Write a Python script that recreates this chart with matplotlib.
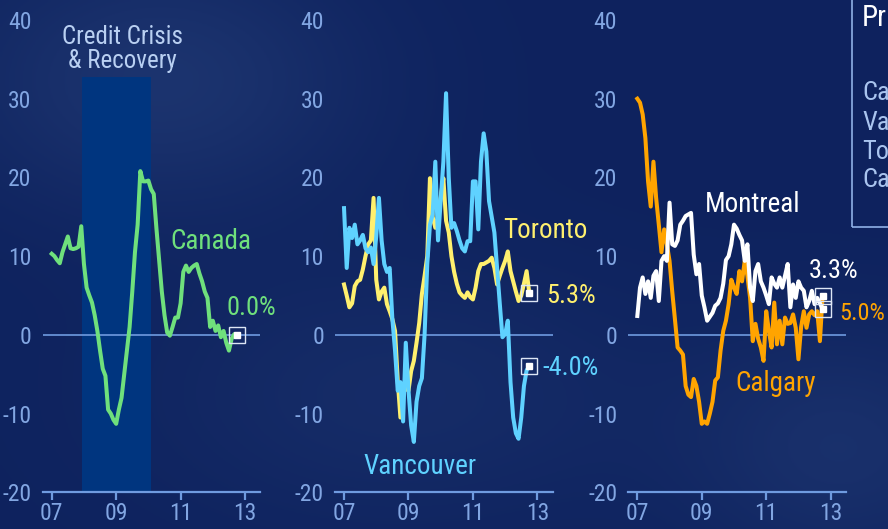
import numpy as np
import matplotlib
matplotlib.use("Agg")
import matplotlib.pyplot as plt
from matplotlib.patches import Rectangle

plt.rcParams['font.family'] = ['Roboto Condensed', 'Liberation Sans Narrow', 'Lato', 'DejaVu Sans']
plt.rcParams['axes.unicode_minus'] = False

# monthly y/y % change, Jan 2007 .. Oct 2012
start_year = 2007
canada = [10.3, 10.0, 9.5, 9.1, 10.5, 11.5, 12.5, 11.0, 10.9, 11.0, 11.2, 13.8,
          9.0, 6.0, 5.0, 4.1, 2.5, 0.5, -2.0, -4.3, -5.2, -9.5, -10.0, -10.8,
          -11.3, -9.5, -8.0, -5.0, -2.0, 1.0, 5.5, 10.5, 14.0, 20.8, 19.5, 19.5,
          19.6, 18.5, 17.9, 13.5, 9.5, 5.5, 2.5, 0.3, -0.1, 1.0, 2.2, 2.2,
          4.0, 8.0, 8.8, 8.0, 8.5, 8.8, 9.0, 7.8, 6.8, 5.5, 4.7, 1.0,
          1.8, 0.5, 1.2, -0.3, 0.5, -1.0, -2.0, -0.5, 0.1, 0.0]
vancouver = [16.1, 8.5, 13.6, 12.3, 14.0, 11.5, 12.0, 12.7, 11.0, 10.5, 11.1, 9.0,
             12.5, 17.4, 12.0, 9.0, 8.0, 8.5, 2.0, -2.0, -7.1, -6.0, -11.0, -1.0,
             -7.0, -11.5, -13.6, -8.5, -6.5, -5.5, 0.0, 9.0, 14.0, 15.3, 22.0, 12.0,
             17.0, 22.0, 30.7, 20.0, 13.6, 14.2, 13.2, 12.0, 11.0, 10.6, 11.9, 11.9,
             19.5, 19.5, 13.4, 22.0, 25.6, 23.3, 17.0, 15.0, 13.0, 8.5, 4.0, -0.3,
             0.1, 1.8, -6.0, -10.5, -12.5, -13.2, -10.5, -6.5, -4.5, -4.0]
toronto = [6.4, 5.0, 3.5, 4.0, 6.2, 6.8, 7.0, 8.3, 10.0, 11.5, 12.0, 17.4,
           7.0, 4.5, 5.5, 6.0, 3.9, 3.0, 2.0, 0.5, -5.8, -10.5, -7.0, -6.8,
           -7.1, -4.6, -3.3, -1.0, 1.5, 5.2, 7.5, 10.0, 19.9, 15.0, 13.6, 15.0,
           17.5, 19.9, 14.5, 13.0, 10.0, 8.0, 6.5, 5.4, 5.0, 4.7, 5.4, 4.8,
           4.5, 6.0, 8.1, 9.0, 9.0, 9.2, 9.4, 9.8, 8.5, 6.4, 7.5, 8.5,
           9.4, 10.6, 8.1, 6.8, 5.5, 4.3, 5.0, 6.5, 8.1, 5.3]
montreal = [2.4, 6.0, 7.3, 5.2, 6.8, 4.7, 7.5, 8.1, 4.3, 9.4, 10.0, 9.4,
            16.8, 11.5, 11.3, 12.0, 14.0, 14.5, 15.1, 15.3, 15.5, 10.2, 7.7, 9.0,
            5.0, 3.5, 1.8, 2.3, 2.8, 3.7, 4.0, 4.7, 6.5, 9.5, 10.0, 11.5,
            14.0, 13.5, 12.7, 12.0, 9.4, 11.5, 6.0, 4.3, 8.1, 9.0, 6.8, 6.0,
            5.0, 3.9, 7.3, 6.5, 6.0, 7.3, 6.0, 7.5, 9.0, 3.5, 6.4, 4.7,
            6.8, 6.0, 5.6, 3.5, 4.3, 5.6, 3.9, 4.7, 4.0, 3.3]
calgary = [30.0, 29.5, 28.0, 25.0, 19.5, 16.3, 22.0, 17.4, 14.0, 10.5, 13.4, 11.5,
           9.4, 5.5, 2.0, -1.6, -2.0, -2.5, -6.5, -7.6, -7.9, -5.6, -6.5, -8.5,
           -11.3, -11.0, -11.3, -10.0, -8.5, -5.8, -5.4, -2.0, 0.5, 1.8, 3.9, 7.0,
           6.0, 5.2, 8.1, 6.8, 9.4, 7.5, 4.7, -0.8, 1.4, -0.5, -1.6, -3.3,
           3.0, 0.5, -1.6, 4.1, -1.2, 1.8, -1.2, 2.2, 1.4, 1.5, 2.6, 0.9,
           -3.1, 1.0, 3.0, 0.9, 2.6, 3.0, 2.5, 3.0, -0.8, 5.0]

crisis_span = (2007.95, 2010.08)
crisis_top = 32.7
year_ticks = [2007, 2009, 2011, 2013]
year_labels = ['07', '09', '11', '13']
y_ticks = [-20, -10, 0, 10, 20, 30, 40]

GREEN = '#6fe07c'
YELLOW = '#fff06e'
LBLUE = '#5fd2ff'
ORANGE = '#ffa400'
WHITE = '#ffffff'
AXIS = '#6f9be0'
TICK = '#82a6e2'

TICK_FS = 17
NAME_FS = 19.5
PCT_FS = 19

months = start_year + np.arange(len(canada)) / 12.0

fig = plt.figure(figsize=(8.88, 5.29), dpi=100)
fig.patch.set_facecolor('#102766')

# background gradient
bg = fig.add_axes([0, 0, 1, 1], zorder=-10)
gx, gy = np.meshgrid(np.linspace(0, 1, 300), np.linspace(0, 1, 200))
glow = (0.9 * np.exp(-((gx - 0.18) ** 2 / 0.05 + (gy - 0.15) ** 2 / 0.06))
        + 0.7 * np.exp(-((gx - 0.95) ** 2 / 0.03 + (gy - 0.85) ** 2 / 0.05))
        + 0.5 * np.exp(-((gx - 0.45) ** 2 / 0.08 + (gy - 0.75) ** 2 / 0.06)))
dark = np.array([0.055, 0.135, 0.37])
light = np.array([0.115, 0.21, 0.44])
img = dark + glow[..., None].clip(0, 1) * (light - dark)
bg.imshow(img, aspect='auto', extent=[0, 1, 0, 1], origin='upper')
bg.axis('off')


def setup(ax):
    ax.set_facecolor('none')
    ax.set_xlim(2006.72, 2013.47)
    ax.set_ylim(-20, 40)
    for s in ['top', 'right', 'left']:
        ax.spines[s].set_visible(False)
    ax.spines['bottom'].set_color(AXIS)
    ax.spines['bottom'].set_linewidth(1.6)
    ax.set_xticks(year_ticks)
    ax.set_xticklabels(year_labels)
    ax.set_yticks(y_ticks)
    ax.tick_params(axis='x', colors=AXIS, length=6, width=1.6, labelsize=TICK_FS,
                   labelcolor=TICK, pad=1)
    ax.tick_params(axis='y', length=0, labelsize=TICK_FS, labelcolor=TICK, pad=8)
    ax.axhline(0, color=AXIS, lw=1.2, zorder=1)


def end_marker(ax, x, y):
    ax.plot([x], [y], marker='s', ms=11.5, mfc='none', mec='#dde6f5', mew=1.0,
            zorder=6, clip_on=False)
    ax.plot([x], [y], marker='s', ms=5, mfc='white', mec='white', zorder=7,
            clip_on=False)


w = 217.5 / 888
bottom = 36.7 / 529
height = (492.3 - 20) / 529
ax1 = fig.add_axes([42.7 / 888, bottom, w, height])
ax2 = fig.add_axes([335 / 888, bottom, w, height])
ax3 = fig.add_axes([628.3 / 888, bottom, w, height])
for ax in (ax1, ax2, ax3):
    setup(ax)

lw = 2.9
# panel 1: Canada
ax1.fill_between(crisis_span, -20, crisis_top, color='#00357f', lw=0, zorder=0)
ax1.text(2009.2, 36.3, 'Credit Crisis\n& Recovery', color='#b9d0f2', fontsize=18,
         ha='center', va='center', linespacing=1.0)
ax1.plot(months, canada, color=GREEN, lw=lw, zorder=3, solid_joinstyle='round')
end_marker(ax1, months[-1], canada[-1])
ax1.text(2010.67, 11.8, 'Canada', color=GREEN, fontsize=NAME_FS, va='center')
ax1.text(2012.41, 3.4, '0.0%', color=GREEN, fontsize=PCT_FS, va='center')

# panel 2: Vancouver & Toronto
ax2.plot(months, toronto, color=YELLOW, lw=lw, zorder=3, solid_joinstyle='round')
ax2.plot(months, vancouver, color=LBLUE, lw=lw, zorder=4, solid_joinstyle='round')
end_marker(ax2, months[-1], toronto[-1])
end_marker(ax2, months[-1], vancouver[-1])
ax2.text(2011.95, 13.3, 'Toronto', color=YELLOW, fontsize=NAME_FS, va='center')
ax2.text(2013.27, 4.95, '5.3%', color=YELLOW, fontsize=PCT_FS, va='center', clip_on=False)
ax2.text(2013.17, -4.2, '-4.0%', color=LBLUE, fontsize=PCT_FS, va='center', clip_on=False)
ax2.text(2007.6, -16.75, 'Vancouver', color=LBLUE, fontsize=NAME_FS, va='center')

# panel 3: Montreal & Calgary
ax3.plot(months, calgary, color=ORANGE, lw=lw, zorder=3, solid_joinstyle='round')
ax3.plot(months, montreal, color=WHITE, lw=lw, zorder=4, solid_joinstyle='round')
end_marker(ax3, months[-1], montreal[-1])
end_marker(ax3, months[-1], calgary[-1])
ax3.text(2009.11, 16.6, 'Montreal', color=WHITE, fontsize=NAME_FS, va='center')
ax3.text(2012.33, 8.1, '3.3%', color=WHITE, fontsize=PCT_FS, va='center')
ax3.text(2013.27, 2.7, '5.0%', color=ORANGE, fontsize=17.5, va='center', clip_on=False)
ax3.text(2010.03, -6.2, 'Calgary', color=ORANGE, fontsize=NAME_FS, va='center')

# side legend box, cut off by the right edge as in the source
fig.patches.append(Rectangle((852 / 888, 1 - 227 / 529), 0.2, 0.6,
                             transform=fig.transFigure, fill=False,
                             edgecolor='#8fb0e6', lw=1.2))
fig.text(862 / 888, 1 - 18 / 529, 'Price', color='white', fontsize=21, va='center')
for lab, py in zip(['Canada', 'Vancouver', 'Toronto', 'Calgary'], [93, 123, 152, 180]):
    fig.text(862 / 888, 1 - py / 529, lab, color='#a9c4ef', fontsize=19, va='center')

fig.savefig('out.png', dpi=100, facecolor=fig.get_facecolor())
